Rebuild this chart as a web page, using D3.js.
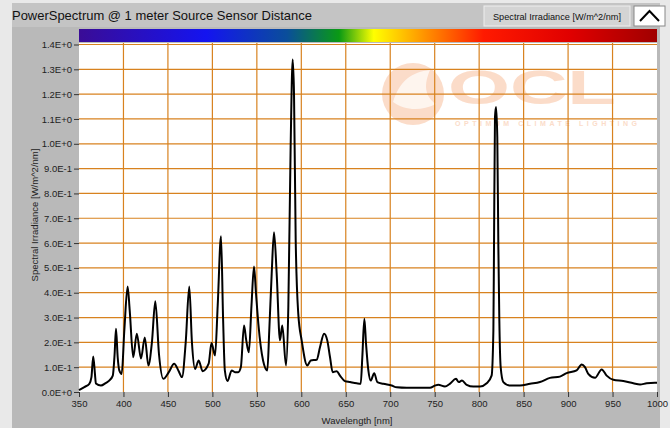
<!DOCTYPE html>
<html><head><meta charset="utf-8">
<script src="https://cdn.jsdelivr.net/npm/d3@7"></script>
<style>
html,body{margin:0;padding:0;background:#e9e9e9;}
svg{display:block;font-family:"Liberation Sans",Arial,sans-serif;}
</style></head>
<body>
<script>
const wavelength = [350,356,361.6,364,366,368,369,374.7,380,384,388,390,391.6,393.5,395.3,398,401,404.7,407,411,415,419.7,424,428,432,435.8,440,444.8,451,457,462,465.8,470,474,477,480.5,484.6,489,495.8,499,503,506,509.7,512,514,517,521.7,525.4,529,532,535.6,538,541,544,546.8,549,551.7,557,561.8,564,566.7,569.3,572.3,576,578.6,582.8,585.4,588,590.3,591.8,593.7,596.6,600.4,606.7,610.6,617.3,621,625.6,629.2,632.3,635.3,639.8,643.5,649,654.8,662.3,666.8,668.6,670.9,672.8,675.4,678,682,685.5,692.2,701.6,707.3,718.5,729.8,744.7,750.4,754,761.6,767,774,777,780.7,786,793.4,801,808.5,814,816,816.7,817.8,819,820.4,821.6,822.7,824.2,827.2,834.7,845.9,857.2,868.4,879.6,890.8,898.4,909.6,915.3,919,922.7,930.3,937.8,943.4,950.9,962.1,973.4,980.9,988.4,997.7,1000];
const irradiance = [0.008,0.02,0.033,0.06,0.143,0.07,0.034,0.026,0.036,0.046,0.066,0.15,0.255,0.14,0.087,0.073,0.25,0.425,0.33,0.14,0.235,0.135,0.22,0.107,0.2,0.366,0.15,0.053,0.08,0.114,0.085,0.06,0.2,0.425,0.2,0.093,0.127,0.084,0.114,0.197,0.147,0.35,0.627,0.3,0.087,0.044,0.087,0.08,0.08,0.1,0.268,0.21,0.16,0.35,0.506,0.4,0.275,0.127,0.087,0.25,0.477,0.644,0.477,0.208,0.268,0.107,0.342,0.987,1.34,1.2,0.61,0.315,0.208,0.107,0.127,0.13,0.18,0.235,0.208,0.14,0.08,0.084,0.066,0.044,0.04,0.035,0.033,0.14,0.295,0.194,0.087,0.046,0.076,0.04,0.033,0.026,0.019,0.017,0.017,0.017,0.026,0.029,0.022,0.033,0.053,0.04,0.046,0.029,0.022,0.022,0.035,0.066,0.248,0.584,1.108,1.148,1.027,0.584,0.288,0.1,0.04,0.026,0.026,0.033,0.04,0.057,0.062,0.076,0.087,0.111,0.1,0.073,0.057,0.091,0.066,0.049,0.044,0.035,0.03,0.035,0.037,0.037];
const xTicks = [350,400,450,500,550,600,650,700,750,800,850,900,950,1000];
const yTicks = [0,0.1,0.2,0.3,0.4,0.5,0.6,0.7,0.8,0.9,1.0,1.1,1.2,1.3,1.4];
const yTickLabels = ["0.0E+0","1.0E-1","2.0E-1","3.0E-1","4.0E-1","5.0E-1","6.0E-1","7.0E-1","8.0E-1","9.0E-1","1.0E+0","1.1E+0","1.2E+0","1.3E+0","1.4E+0"];
const barColors = ["#3a0c96","#1414f0","#0a4e9a","#0a9a14","#ffff00","#ff9000","#ff1a00","#e00000","#a00000"];
const barStops = [0,0.22,0.36,0.45,0.51,0.6,0.7,0.85,1];
const title = "PowerSpectrum @ 1 meter Source Sensor Distance";
const legendLabel = "Spectral Irradiance [W/m^2/nm]";
const xTitle = "Wavelength [nm]";
const yTitle = "Spectral Irradiance [W/m^2/nm]";

const W = 670, H = 428;
const svg = d3.select("body").append("svg").attr("width", W).attr("height", H);
// frame
svg.append("rect").attr("x",0).attr("y",0).attr("width",W).attr("height",H).attr("fill","#e9e9e9");
svg.append("rect").attr("x",12).attr("y",3).attr("width",648).attr("height",H-3).attr("fill","#b9b9b9");
svg.append("rect").attr("x",12).attr("y",3).attr("width",648).attr("height",24).attr("fill","#c4c4c4");

const m = {l:79, r:657, t:43, b:392};
const x = d3.scaleLinear().domain([350,1000]).range([m.l, m.r]);
const y = d3.scaleLinear().domain([0,1.4]).range([m.b, 44.5]);

// plot bg
svg.append("rect").attr("x",m.l).attr("y",m.t).attr("width",m.r-m.l).attr("height",m.b-m.t).attr("fill","#ffffff");

// watermark
const wm = svg.append("g").attr("fill","#fbd9c4").attr("opacity",0.9);
wm.append("circle").attr("cx",413).attr("cy",94).attr("r",31);
wm.append("path").attr("d","M393,102 C400,80 412,72 430,70 C424,84 424,96 436,104 C420,112 404,110 393,102 Z").attr("fill","#ffffff").attr("opacity",0.7);
wm.append("text").attr("x",448).attr("y",104).attr("font-size",48).attr("font-weight","bold").attr("textLength",168).attr("lengthAdjust","spacingAndGlyphs").text("OCL");
wm.append("text").attr("x",455).attr("y",126).attr("font-size",7).attr("font-weight","bold").attr("letter-spacing",3).attr("textLength",185).text("OPTIMUM CLIMATE LIGHTING");

// grid
const gcol = "#d8821f";
svg.append("g").selectAll("line").data(xTicks.slice(1,-1)).join("line")
  .attr("x1",d=>x(d)).attr("x2",d=>x(d)).attr("y1",m.t).attr("y2",m.b)
  .attr("stroke",gcol).attr("stroke-width",1.2);
svg.append("g").selectAll("line").data(yTicks.slice(1)).join("line")
  .attr("x1",m.l).attr("x2",m.r).attr("y1",d=>y(d)).attr("y2",d=>y(d))
  .attr("stroke",gcol).attr("stroke-width",1.2);

// color bar
const grad = svg.append("defs").append("linearGradient").attr("id","cb");
barStops.forEach((s,i)=>grad.append("stop").attr("offset",s).attr("stop-color",barColors[i]));
svg.append("rect").attr("x",m.l).attr("y",29).attr("width",m.r-m.l).attr("height",13).attr("fill","url(#cb)");

// line
const data = wavelength.map((w,i)=>[w,irradiance[i]]);
svg.append("path").datum(data)
  .attr("d", d3.line().x(d=>x(d[0])).y(d=>y(d[1])).curve(d3.curveMonotoneX))
  .attr("fill","none").attr("stroke","#000").attr("stroke-width",2).attr("stroke-linejoin","round");

// axes
const xa = svg.append("g").attr("transform",`translate(0,${m.b})`)
  .call(d3.axisBottom(x).tickValues(xTicks).tickSize(5).tickPadding(3).tickFormat(d3.format("d")));
const ya = svg.append("g").attr("transform",`translate(${m.l},0)`)
  .call(d3.axisLeft(y).tickValues(yTicks).tickSize(5).tickPadding(2).tickFormat((d,i)=>yTickLabels[i]));
[xa,ya].forEach(a=>{
  a.select(".domain").remove();
  a.selectAll(".tick line").attr("stroke","#333");
  a.selectAll("text").attr("fill","#222").attr("font-size",9.5).attr("font-family","'Liberation Sans',Arial,sans-serif");
});

svg.append("text").attr("x",357).attr("y",424).attr("text-anchor","middle").attr("font-size",9.5).attr("fill","#222").text(xTitle);
svg.append("text").attr("transform","translate(38,215) rotate(-90)").attr("text-anchor","middle").attr("font-size",9.5).attr("fill","#222").text(yTitle);

// title
svg.append("text").attr("x",12).attr("y",20).attr("font-size",13.5).attr("fill","#111").attr("textLength",300).attr("lengthAdjust","spacingAndGlyphs").text(title);

// legend
svg.append("rect").attr("x",484).attr("y",6).attr("width",146).attr("height",20).attr("fill","#d4d4d4").attr("stroke","#eeeeee");
svg.append("text").attr("x",557).attr("y",19.5).attr("text-anchor","middle").attr("font-size",8.5).attr("fill","#111").attr("textLength",128).attr("lengthAdjust","spacingAndGlyphs").text(legendLabel);
svg.append("rect").attr("x",634).attr("y",6).attr("width",31).attr("height",20).attr("fill","#ffffff").attr("stroke","#888");
svg.append("path").attr("d","M640,21 L649.5,11 L659,21").attr("fill","none").attr("stroke","#000").attr("stroke-width",2);
</script>
</body></html>
